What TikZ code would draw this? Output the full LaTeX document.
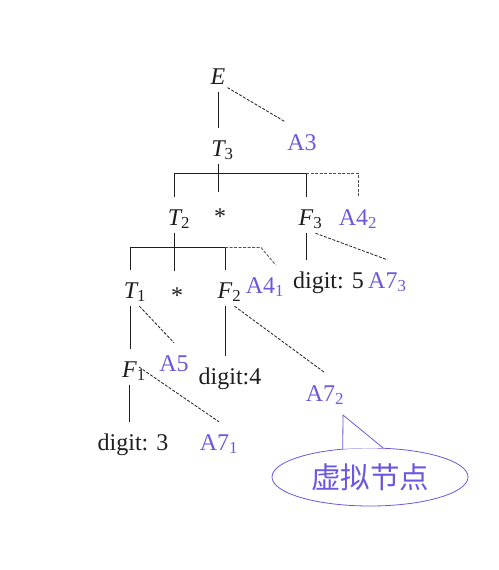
\documentclass[tikz,border=0pt]{standalone}
\usepackage{fontspec}
\setmainfont{Liberation Serif}
\newfontfamily\cjk{Noto Sans CJK SC}
\usetikzlibrary{shapes.geometric}
\definecolor{negro}{RGB}{30,30,30}
\definecolor{violeta}{RGB}{108,88,222}
\definecolor{grisl}{RGB}{80,80,80}
\newcommand\letra{\fontsize{24}{28}\selectfont}
\newcommand\subd[1]{\rlap{\textsubscript{\upshape #1}}}
\tikzset{
  sim/.style={anchor=base, font=\letra\itshape, text=negro, inner xsep=2pt, inner ysep=8pt, text height=20pt, text depth=0pt},
  dig/.style={sim, font=\letra},
  mul/.style={dig, text height=24pt},
  acc/.style={dig, text=violeta},
  nube/.style={draw=violeta, ellipse, line width=0.8pt, minimum width=196pt, minimum height=58pt, text=violeta, font=\cjk\fontsize{29.5}{33}\selectfont},
  rama/.style={line width=1pt, negro},
  ramad/.style={line width=0.8pt, negro, dash pattern=on 3pt off 1.5pt},
  ramag/.style={ramad, grisl},
}

\begin{document}
\begin{tikzpicture}[x=1pt, y=-1pt]
  \useasboundingbox (0,0) rectangle (498,570);
  % arbol
  \node[sim] (E) at (218,84) {E};
  \node[acc] (A3) at (302,150) {A3};
  \node[sim] (T3) at (218,156) {T\subd{3}};
  \node[sim] (T2) at (174.5,225) {T\subd{2}};
  \node[mul] (mul2) at (220,224) {*};
  \node[sim] (F3) at (306,225) {F\subd{3}};
  \node[acc] (A42) at (358,225) {A4\textsubscript{2}};
  \node[sim] (T1) at (130.5,298) {T\subd{1}};
  \node[mul] (mul1) at (177,303) {*};
  \node[sim] (F2) at (225,298) {F\subd{2}};
  \node[acc] (A41) at (265,293) {A4\textsubscript{1}};
  \node[dig, anchor=base east] (d5) at (366,288) {digit:\,\,5};
  \node[acc, anchor=base west] (A73) at (d5.base east) {A7\textsubscript{3}};
  \node[sim] (F1) at (129.5,377) {F\subd{1}};
  \node[acc] (A5) at (174,371) {A5};
  \node[dig] (d4) at (230,384) {digit:4};
  \node[acc] (A72) at (325,401) {A7\textsubscript{2}};
  \node[dig] (d3) at (133,450) {digit: 3};
  \node[acc] (A71) at (219,450) {A7\textsubscript{1}};
  \coordinate (bar3) at (0,173);
  \coordinate (bar2) at (0,247.5);
  \coordinate (codo2) at (261,247.5);
  % ramas
  \draw[rama] (E) -- (T3);
  \draw[ramad] (E.-55) -- (A3.north west);
  \draw[rama] (T3) -- (T3 |- mul2.north);
  \draw[rama] (T2) |- (F3 |- bar3) -- (F3);
  \draw[ramag] (F3 |- bar3) -| (A42);
  \draw[rama] (T2) -- (T2 |- mul1.north);
  \draw[rama] (T1) |- (F2 |- bar2) -- (F2);
  \draw[ramag] (F2 |- bar2) -- (codo2) -- (A41.60);
  \draw[rama] (F3) -- (F3 |- d5.north);
  \draw[ramad] (F3.south east) -- (A73.north);
  \draw[rama] (T1) -- (T1 |- F1.north);
  \draw[ramad] (T1.south east) -- (A5.north);
  \draw[rama] (F2) -- (F2 |- d4.north);
  \draw[ramad] (F2.south east) -- (A72.north);
  \draw[rama] (F1) -- (F1 |- d3.north);
  \draw[ramad] (F1.east) -- (A71.north);
  % nota
  \node[nube] (nota) at (370,477) {虚拟节点};
  \coordinate (punta) at (343,415);
  \fill[white] (nota.134) -- (punta) -- (nota.66) -- cycle;
  \draw[violeta, line width=0.8pt] (nota.134) -- (punta) -- (nota.66);
\end{tikzpicture}
\end{document}
